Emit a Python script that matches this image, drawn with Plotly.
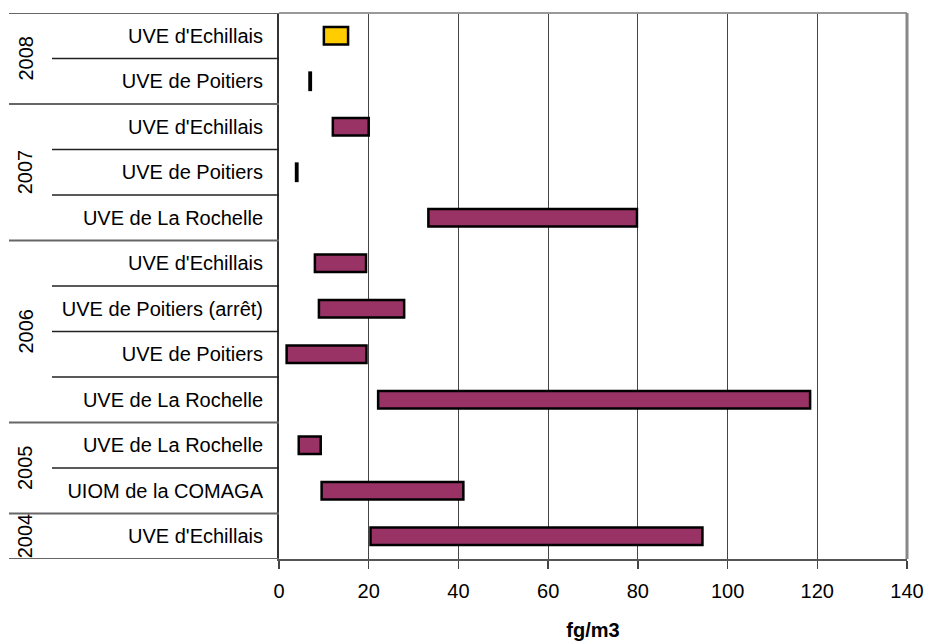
import plotly.graph_objects as go

# ---- data (top row first) ----
years = ["2008", "2008", "2007", "2007", "2007", "2006", "2006", "2006", "2006", "2005", "2005", "2004"]
sites = ["UVE d'Echillais", "UVE de Poitiers", "UVE d'Echillais", "UVE de Poitiers",
         "UVE de La Rochelle", "UVE d'Echillais", "UVE de Poitiers (arrêt)", "UVE de Poitiers",
         "UVE de La Rochelle", "UVE de La Rochelle", "UIOM de la COMAGA", "UVE d'Echillais"]
low = [10.0, 6.8, 12.0, 3.8, 33.3, 8.0, 8.9, 1.7, 22.1, 4.4, 9.5, 20.4]
high = [15.4, 7.1, 20.0, 4.1, 79.8, 19.4, 27.9, 19.5, 118.4, 9.3, 41.1, 94.4]
colors = ["#FFCC00"] + ["#993366"] * 11
x_ticks = [0, 20, 40, 60, 80, 100, 120, 140]

W, H = 926, 641
ML, MR, MT, MB = 279, 19, 13, 82
PW = W - ML - MR

FONT = "Liberation Sans, Arial, sans-serif"

idx = list(range(len(sites)))
fig = go.Figure()
fig.add_trace(go.Bar(
    orientation="h",
    y=idx,
    base=low,
    x=[h - l for l, h in zip(low, high)],
    width=0.38,
    marker=dict(color=colors, line=dict(color="black", width=2.5)),
    showlegend=False,
    hoverinfo="skip",
))

def px2paper(px):
    return (px - ML) / PW

shapes = []
annotations = []
n = len(years)
groups = []
start = 0
for i in range(1, n + 1):
    if i == n or years[i] != years[start]:
        groups.append((years[start], start, i - 1))
        start = i
group_bounds = set()
for g, s, e in groups:
    group_bounds.add(s - 0.5)
    group_bounds.add(e + 0.5)
    annotations.append(dict(
        x=px2paper(25), xref="paper", y=(s + e) / 2, yref="y",
        text=g, textangle=-90, showarrow=False,
        font=dict(family=FONT, size=20, color="black"),
        xanchor="center", yanchor="middle"))
for b in sorted(group_bounds):
    shapes.append(dict(type="line", xref="paper", yref="y", x0=px2paper(9), x1=0,
                       y0=b, y1=b, line=dict(color="#666666", width=2)))
for i in range(n - 1):
    b = i + 0.5
    if b not in group_bounds:
        shapes.append(dict(type="line", xref="paper", yref="y", x0=px2paper(52), x1=0,
                           y0=b, y1=b, line=dict(color="#222222", width=1.3)))
shapes.append(dict(type="line", xref="paper", yref="paper", x0=0, x1=1, y0=1, y1=1,
                   line=dict(color="#999999", width=2)))
shapes.append(dict(type="line", xref="paper", yref="paper", x0=1, x1=1, y0=0, y1=1,
                   line=dict(color="#888888", width=3)))

fig.update_layout(
    width=W, height=H,
    margin=dict(l=ML, r=MR, t=MT, b=MB, pad=0, autoexpand=False),
    paper_bgcolor="white", plot_bgcolor="white",
    font=dict(family=FONT, size=20, color="black"),
    shapes=shapes, annotations=annotations,
    bargap=0,
)
fig.update_xaxes(
    range=[0, 140], tickvals=x_ticks, ticktext=[str(v) for v in x_ticks],
    automargin=False,
    showgrid=True, gridcolor="#444444", gridwidth=1,
    showline=True, linecolor="#555555", linewidth=2,
    ticks="outside", ticklen=8, tickcolor="#444444", tickwidth=1.5,
    tickfont=dict(family=FONT, size=20, color="black"),
    ticklabelstandoff=5,
    zeroline=False,
    title=dict(text="<b>fg/m3</b>", font=dict(family=FONT, size=20, color="black"), standoff=22),
)
fig.update_yaxes(
    range=[n - 0.5, -0.5], tickvals=idx, ticktext=sites,
    automargin=False,
    showgrid=False, zeroline=False,
    showline=True, linecolor="#333333", linewidth=2,
    ticks="", ticklabelstandoff=10,
    tickfont=dict(family=FONT, size=20, color="black"),
)

fig.write_html(
    "out.html",
    config={"displayModeBar": False, "staticPlot": True},
    post_script="document.body.style.margin='0';document.body.style.overflow='hidden';",
)
